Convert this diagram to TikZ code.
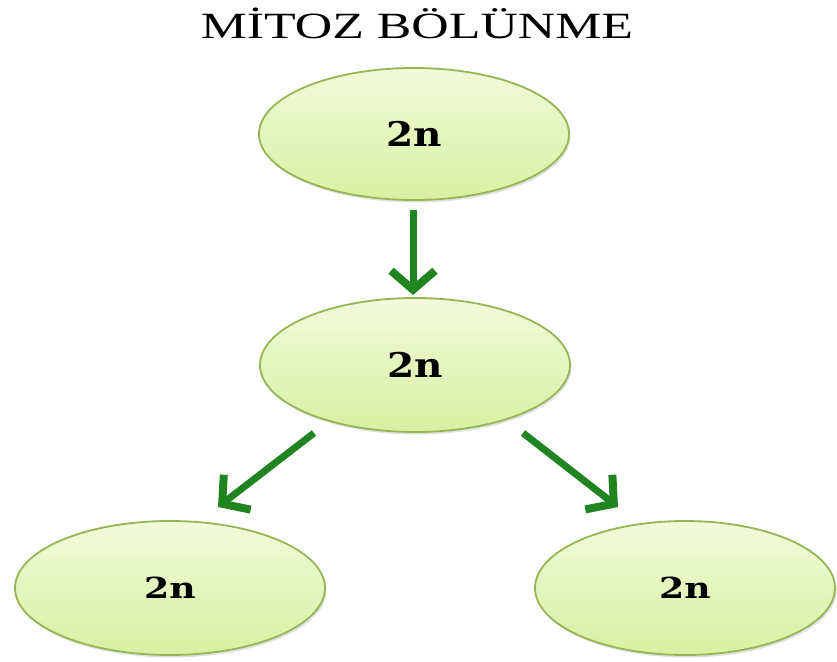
\documentclass[tikz,border=0pt]{standalone}
\usepackage{fontspec}
\setmainfont{Liberation Serif}
\newfontfamily\slabfont{DejaVu Serif}
\usetikzlibrary{shapes.geometric,arrows.meta,calc,shadows}
\definecolor{cellfillT}{RGB}{242,250,218}
\definecolor{cellfillB}{RGB}{216,240,162}
\definecolor{celldraw}{RGB}{150,182,86}
\definecolor{arrowgreen}{RGB}{32,132,32}
\tikzset{
  cell/.style={ellipse, inner sep=0pt, draw=celldraw, line width=1.8pt,
    top color=cellfillT, bottom color=cellfillB,
    drop shadow={shadow xshift=1.5pt, shadow yshift=-2.5pt, opacity=0.2, fill=black!60},
    font=\slabfont\bfseries\fontsize{34}{34}\selectfont},
  smallcell/.style={cell, font=\slabfont\bfseries\fontsize{29}{29}\selectfont},
  splitarrow/.style={draw=arrowgreen, line width=7pt,
    -{Straight Barb[length=19pt, width=44pt, line width=8pt]}},
  titletext/.style={font=\fontsize{37}{37}\selectfont}
}
\begin{document}
\begin{tikzpicture}[x=1pt, y=-1pt]
  \useasboundingbox (0,0) rectangle (837,661);
  \node[titletext] (title) at (417,23) {\scalebox{1.4}[1]{MİTOZ BÖLÜNME}};
  \node[cell, minimum width=310pt, minimum height=132pt] (top) at (414,134) {\scalebox{1.15}[1]{2n}};
  \node[cell, minimum width=310pt, minimum height=134pt] (mid) at (415,365) {\scalebox{1.15}[1]{2n}};
  \node[smallcell, minimum width=310pt, minimum height=134pt] (bl) at (170,588) {\scalebox{1.25}[1]{2n}};
  \node[smallcell, minimum width=300pt, minimum height=134pt] (br) at (685,588) {\scalebox{1.25}[1]{2n}};
  \draw[splitarrow] ($(top.center)+(-1,76)$) -- ($(mid.center)+(-2,-70)$);
  \draw[splitarrow] ($(mid.center)+(-101,68)$) -- ($(bl.center)+(48,-81)$);
  \draw[splitarrow] ($(mid.center)+(108,68)$) -- ($(br.center)+(-67,-81)$);
\end{tikzpicture}
\end{document}
